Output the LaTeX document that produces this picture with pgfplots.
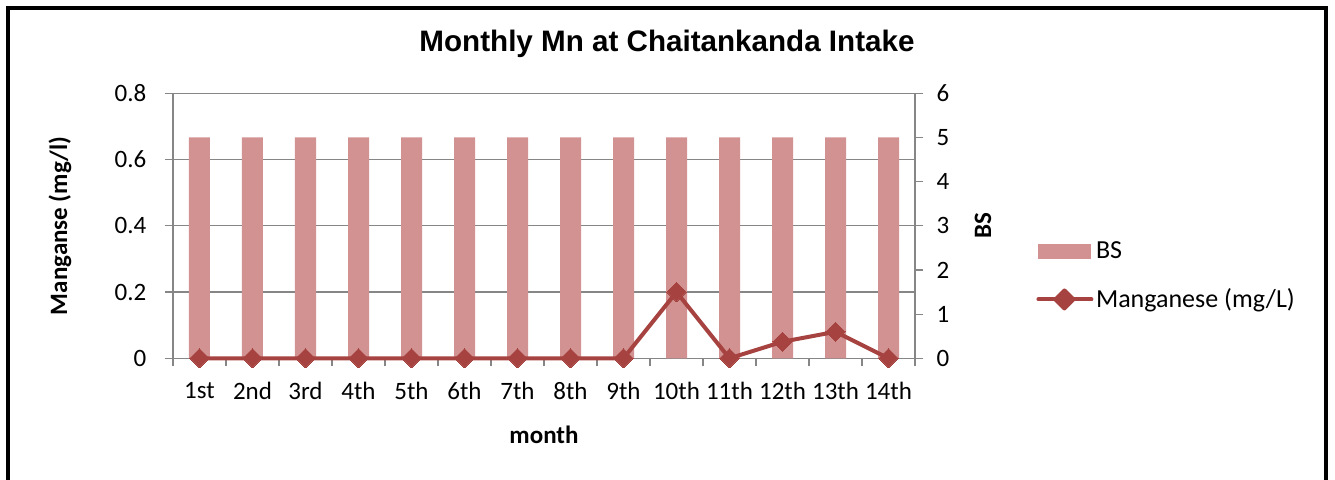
\documentclass[border=0pt]{standalone}
\usepackage{fontspec}
\setmainfont{Carlito}
\newfontfamily\titlefont{Liberation Sans}
\usepackage{pgfplots}
\pgfplotsset{compat=1.18}
\definecolor{barcol}{RGB}{210,146,146}
\definecolor{linecol}{RGB}{166,66,63}
\definecolor{axgray}{RGB}{134,134,134}
\begin{document}
\fontsize{12.5}{15}\selectfont
\begin{tikzpicture}
\useasboundingbox (-86.5pt,-60.35pt) rectangle (581pt,179.15pt);
\pgfplotsset{
  base/.style={at={(0,0)}, anchor=south west, scale only axis, width=371pt, height=132.5pt, xmin=0.5, xmax=14.5,
    /pgf/number format/assume math mode=true,
    ticklabel style={font=\fontsize{12.5}{15}\selectfont},
    label style={font=\fontsize{12.5}{15}\selectfont\bfseries},
    tick align=outside, major tick length=4pt, minor tick length=4pt,
    tick style={axgray, line width=0.6pt},
    axis line style={axgray, line width=0.6pt}},
}
% base axis (left scale, grid, category labels)
\begin{axis}[base, ymin=0, ymax=0.8,
  ytick={0,0.2,0.4,0.6,0.8}, yticklabels={0,0.2,0.4,0.6,0.8},
  yticklabel style={xshift=-5pt},
  xticklabel style={yshift=-3.5pt},
  ymajorgrids, grid style={axgray, line width=0.6pt},
  xtick={1,...,14},
  xticklabels={1st,2nd,3rd,4th,5th,6th,7th,8th,9th,10th,11th,12th,13th,14th},
  major x tick style={draw=none},
  minor xtick={0.5,1.5,...,14.5},
  xtick pos=bottom, ytick pos=left,
  ylabel={Manganse (mg/l)}, xlabel={month},
  ylabel style={at={(axis description cs:-0.1523,0.5)}, anchor=center},
  xlabel style={at={(axis description cs:0.5,-0.29)}, anchor=center},
]
\end{axis}
% bars on right scale
\begin{axis}[base, ymin=0, ymax=6, axis y line*=right, axis x line=none,
  ytick={0,1,2,3,4,5,6}, yticklabels={0,1,2,3,4,5,6},
  yticklabel style={xshift=2.5pt},
  ylabel={BS},
  ylabel style={at={(axis description cs:1.0916,0.5)}, anchor=center, rotate=0},
]
\addplot[ybar, bar width=10.5pt, fill=barcol, draw=none] coordinates {
(1,5) (2,5) (3,5) (4,5) (5,5) (6,5) (7,5) (8,5) (9,5) (10,5) (11,5) (12,5) (13,5) (14,5)};
\end{axis}
% line on left scale
\begin{axis}[base, ymin=0, ymax=0.8, hide axis, clip=false,
  legend style={at={(axis description cs:1.1631,0.31)}, anchor=west, draw=none, fill=none,
    inner sep=0pt, row sep=9pt, font=\fontsize{13}{15}\selectfont, cells={anchor=west},
    /tikz/every even column/.append style={column sep=0pt}},
]
\addlegendimage{legend image code/.code={\fill[barcol] (1pt,-3.5pt) rectangle (27pt,3.5pt);}}
\addlegendentry{\hspace{-0.7pt}BS}
\addplot[linecol, line width=2pt, line join=round, mark=square*, mark size=3.4pt,
  mark options={rotate=45, solid, fill=linecol, line width=0pt},
  legend image code/.code={\draw[linecol, line width=2pt, line cap=round] (1pt,0pt) -- (27.5pt,0pt);
    \fill[linecol] (14pt,4.5pt) -- (18.5pt,0pt) -- (14pt,-4.5pt) -- (9.5pt,0pt) -- cycle;}]
coordinates {(1,0) (2,0) (3,0) (4,0) (5,0) (6,0) (7,0) (8,0) (9,0) (10,0.2) (11,0) (12,0.05) (13,0.08) (14,0)};
\addlegendentry{\hspace{-0.7pt}Manganese (mg/L)}
\end{axis}
\node[font=\titlefont\bfseries\fontsize{14.8}{17}\selectfont] at (247pt,157pt) {Monthly Mn at Chaitankanda Intake};
\draw[line width=2pt] (-82.5pt,-62pt) -- (-82.5pt,175.3pt) -- (576.5pt,175.3pt) -- (576.5pt,-62pt);
\end{tikzpicture}
\end{document}
